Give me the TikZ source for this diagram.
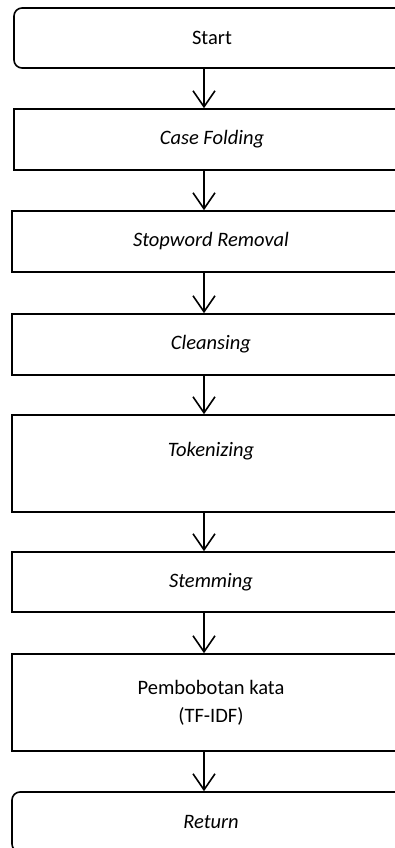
\documentclass[tikz,border=0pt]{standalone}
\usepackage{fontspec}
\setmainfont{Carlito}
\usetikzlibrary{arrows.meta}
\begin{document}
\begin{tikzpicture}[x=1pt,y=1pt,
  box/.style={draw, line width=1.6pt, minimum width=398pt, inner sep=0pt, align=center,
    font=\fontsize{20.5}{28}\selectfont},
  term/.style={box, rounded corners=8pt},
  arr/.style={line width=1.6pt, -{Straight Barb[length=16pt,width=22pt,line width=1.6pt]}}]
\useasboundingbox (0,0) rectangle (395,-848);
\clip (0,0) rectangle (395,-848);
\coordinate (ax) at (204,0);
\node[term, minimum width=396pt, minimum height=60pt] (start) at (212,-38) {Start};
\node[box, minimum width=396pt, minimum height=61pt] (case) at (212,-139.5) {\textit{Case Folding}};
\node[box, minimum height=61pt] (stop) at (211,-241.5) {\textit{Stopword Removal}};
\node[box, minimum height=61pt] (clean) at (211,-344.5) {\textit{Cleansing}};
\node[box, minimum height=97pt] (tok) at (211,-463.5) {\textit{Tokenizing}\\ ~};
\node[box, minimum height=60pt] (stem) at (211,-582) {\textit{Stemming}};
\node[box, minimum height=97pt] (bobot) at (211,-702.5) {Pembobotan kata\\(TF-IDF)};
\node[term, minimum height=60pt] (ret) at (211,-822) {\textit{Return}};
\draw[arr] (start.south -| ax) -- (case.north -| ax);
\draw[arr] (case.south -| ax) -- (stop.north -| ax);
\draw[arr] (stop.south -| ax) -- (clean.north -| ax);
\draw[arr] (clean.south -| ax) -- (tok.north -| ax);
\draw[arr] (tok.south -| ax) -- (stem.north -| ax);
\draw[arr] (stem.south -| ax) -- (bobot.north -| ax);
\draw[arr] (bobot.south -| ax) -- (ret.north -| ax);
\end{tikzpicture}
\end{document}
